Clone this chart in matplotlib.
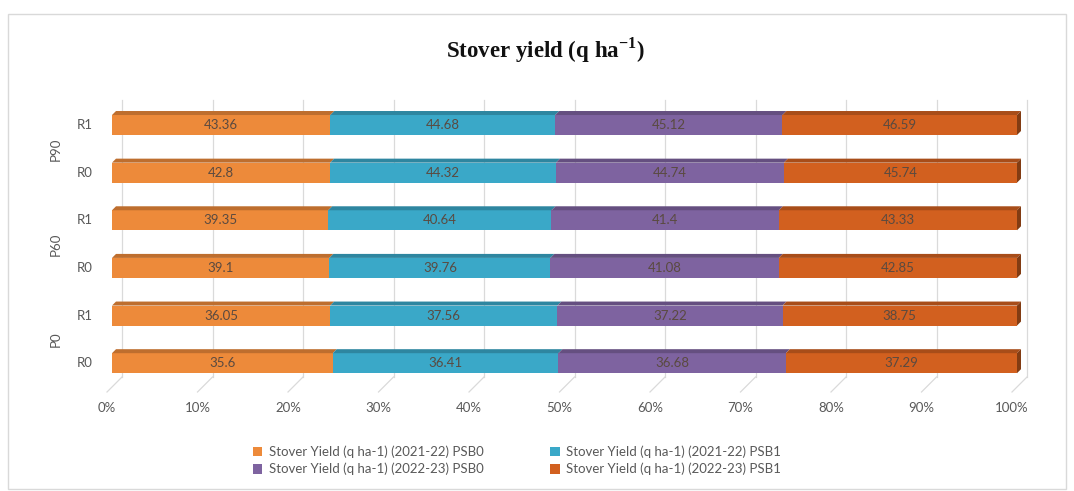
import numpy as np
import matplotlib.pyplot as plt
import matplotlib.colors as mcolors
from matplotlib.patches import Polygon, Rectangle

plt.rcParams['font.family'] = ['Lato', 'DejaVu Sans']

# data, bottom row first
rows = ['R0', 'R1', 'R0', 'R1', 'R0', 'R1']
groups = ['P0', 'P60', 'P90']
series_names = ['Stover Yield (q ha-1) (2021-22) PSB0',
                'Stover Yield (q ha-1) (2021-22) PSB1',
                'Stover Yield (q ha-1) (2022-23) PSB0',
                'Stover Yield (q ha-1) (2022-23) PSB1']
psb0_2122 = [35.6, 36.05, 39.1, 39.35, 42.8, 43.36]
psb1_2122 = [36.41, 37.56, 39.76, 40.64, 44.32, 44.68]
psb0_2223 = [36.68, 37.22, 41.08, 41.4, 44.74, 45.12]
psb1_2223 = [37.29, 38.75, 42.85, 43.33, 45.74, 46.59]
xticks = [0, 10, 20, 30, 40, 50, 60, 70, 80, 90, 100]

colors = ['#ED8A3A', '#3AA8C8', '#7E63A0', '#D2601F']
txt_color = '#595959'

vals = np.array([psb0_2122, psb1_2122, psb0_2223, psb1_2223])
pct = vals / vals.sum(axis=0) * 100
lefts = np.vstack([np.zeros(len(rows)), np.cumsum(pct, axis=0)[:-1]])

W, H = 1074, 491
fig = plt.figure(figsize=(W / 100, H / 100), dpi=100)
ax_l, ax_r, ax_b, ax_t = 107, 1012, 392, 100
ax = fig.add_axes([ax_l / W, 1 - ax_b / H, (ax_r - ax_l) / W, (ax_b - ax_t) / H])
ylo, yhi = -0.5, 5.63
ax.set_xlim(0, 100)
ax.set_ylim(ylo, yhi)
ax.axis('off')

# pixel -> data helpers for the fake 3d look
sx = (ax_r - ax_l) / 100
sy = (ax_b - ax_t) / (yhi - ylo)
def dx(p): return p / sx
def dy(p): return p / sy

# back wall gridlines + floor
back = 15
for v in xticks:
    ax.plot([v + dx(back), v + dx(back)], [ylo + dy(back), yhi], color='#DADADA', lw=0.9, clip_on=False)
    ax.plot([v, v + dx(back)], [ylo, ylo + dy(back)], color='#DADADA', lw=0.9, clip_on=False)
    ax.text(v, ylo - dy(16), f'{v}%', ha='center', va='center', fontsize=9.5, color=txt_color)

def darker(c, f):
    r, g, b = mcolors.to_rgb(c)
    return (r * f, g * f, b * f)

ox, oy = dx(5), dy(5)
h = dy(20)
tx, ty = dx(4), dy(4)
for i in range(len(rows)):
    yc = i + oy
    for s in range(4):
        l = lefts[s, i] + ox
        w = pct[s, i]
        ax.add_patch(Rectangle((l, yc - h / 2), w, h, facecolor=colors[s], edgecolor='none',
                               zorder=3, clip_on=False))
        top = [(l, yc + h / 2), (l + w, yc + h / 2), (l + w + tx, yc + h / 2 + ty), (l + tx, yc + h / 2 + ty)]
        ax.add_patch(Polygon(top, closed=True, facecolor=darker(colors[s], 0.8), edgecolor='none',
                             zorder=3, clip_on=False))
        ax.text(l + w / 2, yc, f'{vals[s, i]:g}', ha='center', va='center', fontsize=9.5,
                color='#5a4a40', zorder=4)
    r = 100 + ox
    side = [(r, yc - h / 2), (r, yc + h / 2), (r + tx, yc + h / 2 + ty), (r + tx, yc - h / 2 + ty)]
    ax.add_patch(Polygon(side, closed=True, facecolor=darker(colors[3], 0.62), edgecolor='none',
                         zorder=3, clip_on=False))
    ax.text(-dx(14), yc, rows[i], ha='right', va='center', fontsize=9.5, color=txt_color)

for g, name in enumerate(groups):
    yc = 2 * g + 0.5 + oy
    ax.text(-dx(51), yc, name, ha='center', va='center', rotation=90, fontsize=9.5, color=txt_color)

fig.text(545 / W, 1 - 50 / H, r'Stover yield (q ha$^{\mathregular{-1}}$)', ha='center', va='center',
         fontsize=16.5, fontweight='bold', family='Liberation Serif', color='#111111')

handles = [Rectangle((0, 0), 1, 1, facecolor=c, edgecolor='none') for c in colors]
order = [0, 2, 1, 3]
leg = fig.legend([handles[k] for k in order], [series_names[k] for k in order],
                 loc='upper left', bbox_to_anchor=(246 / W, 1 - 439 / H), ncol=2, frameon=False,
                 fontsize=9.5, handlelength=0.75, handleheight=0.75, handletextpad=0.5,
                 columnspacing=5.0, labelspacing=0.35, borderpad=0)
for t in leg.get_texts():
    t.set_color(txt_color)

fig.add_artist(Rectangle((8 / W, 1 - 489 / H), (1066 - 8) / W, (489 - 14) / H, transform=fig.transFigure,
                         facecolor='none', edgecolor='#D9D9D9', lw=1))

fig.savefig('out.png', dpi=100)
